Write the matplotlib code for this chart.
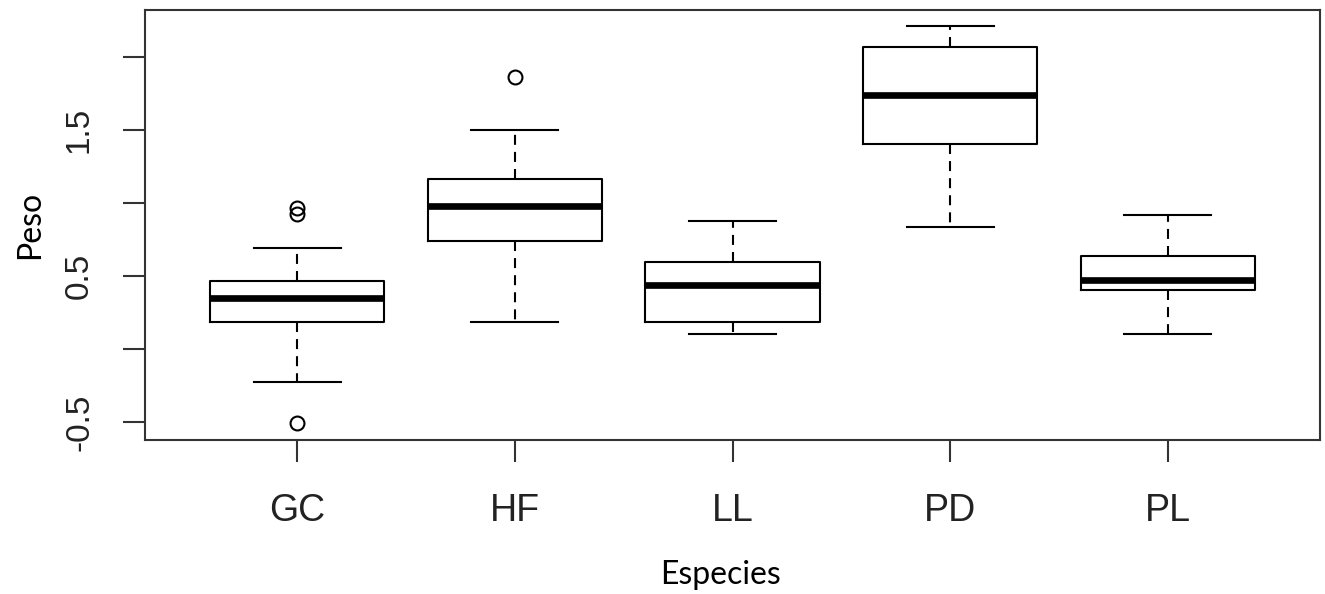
import matplotlib.pyplot as plt

especies = ["GC", "HF", "LL", "PD", "PL"]
whislo = [-0.226, 0.185, 0.103, 0.836, 0.103]
q1 = [0.185, 0.740, 0.185, 1.404, 0.404]
med = [0.349, 0.979, 0.438, 1.740, 0.473]
q3 = [0.466, 1.164, 0.596, 2.068, 0.637]
whishi = [0.692, 1.500, 0.877, 2.212, 0.918]
outliers = [[0.966, 0.925, -0.507], [1.863], [], [], []]

yticks = [-0.5, 0, 0.5, 1, 1.5, 2]
ytick_labels = ["-0.5", "", "0.5", "", "1.5", ""]

stats = []
for i in range(len(especies)):
    stats.append({
        "label": especies[i],
        "whislo": whislo[i],
        "q1": q1[i],
        "med": med[i],
        "q3": q3[i],
        "whishi": whishi[i],
        "fliers": outliers[i],
    })

fig = plt.figure(figsize=(13.25, 5.94), dpi=100)
ax = fig.add_axes([145 / 1325, 1 - 440 / 594, 1175 / 1325, 430 / 594])

lw = 1.5
ax.bxp(
    stats,
    positions=range(1, len(especies) + 1),
    widths=0.8,
    boxprops=dict(color="black", linewidth=lw),
    medianprops=dict(color="black", linewidth=4.8, solid_capstyle="butt"),
    whiskerprops=dict(color="black", linewidth=lw, linestyle=(0, (4.8, 3.4))),
    capprops=dict(color="black", linewidth=lw),
    capwidths=0.4,
    flierprops=dict(marker="o", markerfacecolor="none", markeredgecolor="black",
                    markersize=10, markeredgewidth=1.5),
)

ax.set_xlim(0.3, 5.7)
ax.set_ylim(-0.623, 2.322)

ax.set_yticks(yticks)
ax.set_yticklabels(ytick_labels, rotation=90, va="center",
                   fontsize=24, family="Liberation Sans", color="#222222")
ax.set_xticks(range(1, len(especies) + 1))
ax.set_xticklabels(especies, fontsize=27, family="Liberation Sans", color="#222222")
ax.tick_params(axis="both", length=16, width=1.5, color="#333333")
ax.tick_params(axis="x", pad=22)
ax.tick_params(axis="y", pad=20)

for s in ax.spines.values():
    s.set_linewidth(1.5)
    s.set_color("#333333")

ax.set_ylabel("Peso", fontsize=23, family="Lato")
ax.set_xlabel("Especies", fontsize=23, family="Lato")
ax.yaxis.set_label_coords(-100 / 1175, 0.5)
ax.xaxis.set_label_coords(0.49, -120 / 430)

fig.savefig("out.png", dpi=100)
